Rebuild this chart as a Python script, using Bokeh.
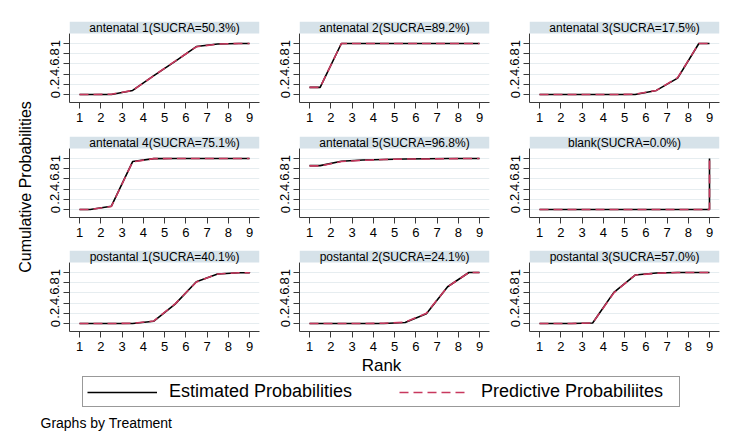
import math
from bokeh.plotting import figure
from bokeh.models import (Range1d, FixedTicker, BoxAnnotation, Label, Legend, LegendItem)
from bokeh.layouts import row, column
from bokeh.embed import file_html
from bokeh.resources import INLINE

# ---------------- data ----------------
treatments = ["antenatal 1", "antenatal 2", "antenatal 3",
              "antenatal 4", "antenatal 5", "blank",
              "postantal 1", "postantal 2", "postantal 3"]
sucra = ["50.3", "89.2", "17.5", "75.1", "96.8", "0.0", "40.1", "24.1", "57.0"]

# rank positions of the plotted points
rank_pos = [1, 1.5, 2.5, 3.5, 4.5, 5.5, 6.5, 7.5, 8.5, 9, 9]
rank_ticks = [1, 2, 3, 4, 5, 6, 7, 8, 9]
prob_ticks = [0, 0.2, 0.4, 0.6, 0.8, 1]
prob_tick_labels = ["0", ".2", ".4", ".6", ".8", "1"]

# estimated cumulative probabilities
est_antenatal1 = [0, 0, 0, 0.08, 0.37, 0.65, 0.94, 0.99, 1.0, 1.0, 1.0]
est_antenatal2 = [0.14, 0.14, 1.0, 1.0, 1.0, 1.0, 1.0, 1.0, 1.0, 1.0, 1.0]
est_antenatal3 = [0, 0, 0, 0, 0, 0, 0.08, 0.32, 1.0, 1.0, 1.0]
est_antenatal4 = [0, 0, 0.065, 0.94, 0.998, 1.0, 1.0, 1.0, 1.0, 1.0, 1.0]
est_antenatal5 = [0.86, 0.86, 0.945, 0.97, 0.98, 0.99, 0.995, 1.0, 1.0, 1.0, 1.0]
est_blank = [0, 0, 0, 0, 0, 0, 0, 0, 0, 0, 1.0]
est_postantal1 = [0, 0, 0, 0, 0.045, 0.38, 0.82, 0.97, 0.995, 0.995, 1.0]
est_postantal2 = [0, 0, 0, 0, 0, 0.02, 0.19, 0.72, 1.0, 1.0, 1.0]
est_postantal3 = [0, 0, 0, 0.01, 0.61, 0.95, 0.99, 1.0, 1.0, 1.0, 1.0]

# predictive cumulative probabilities
pred_antenatal1 = [0, 0, 0.005, 0.08, 0.37, 0.655, 0.935, 0.99, 1.0, 1.0, 1.0]
pred_antenatal2 = [0.14, 0.14, 1.0, 1.0, 1.0, 1.0, 1.0, 1.0, 1.0, 1.0, 1.0]
pred_antenatal3 = [0, 0, 0, 0, 0, 0.005, 0.08, 0.33, 1.0, 1.0, 1.0]
pred_antenatal4 = [0, 0, 0.06, 0.935, 0.997, 1.0, 1.0, 1.0, 1.0, 1.0, 1.0]
pred_antenatal5 = [0.855, 0.855, 0.94, 0.965, 0.98, 0.99, 0.99, 0.995, 1.0, 1.0, 1.0]
pred_blank = [0, 0, 0, 0, 0, 0, 0, 0, 0, 0, 1.0]
pred_postantal1 = [0, 0, 0, 0.005, 0.05, 0.385, 0.815, 0.97, 0.995, 0.995, 1.0]
pred_postantal2 = [0, 0, 0, 0, 0.005, 0.025, 0.2, 0.72, 1.0, 1.0, 1.0]
pred_postantal3 = [0, 0, 0, 0.01, 0.6, 0.95, 0.985, 1.0, 1.0, 1.0, 1.0]

est_series = [est_antenatal1, est_antenatal2, est_antenatal3, est_antenatal4,
              est_antenatal5, est_blank, est_postantal1, est_postantal2, est_postantal3]
pred_series = [pred_antenatal1, pred_antenatal2, pred_antenatal3, pred_antenatal4,
               pred_antenatal5, pred_blank, pred_postantal1, pred_postantal2, pred_postantal3]

# ---------------- style ----------------
FONT = "Liberation Sans"
RED = "#c8385e"
AXIS = "#3a3a3a"
STRIP = "#d6e2e9"
GRID = "#e6edf0"

FRAME_W, FRAME_H = 190, 81
PX_X = 170 / 8.0           # pixels per rank unit
PX_Y = 51.0                # pixels per probability unit
X0, X1 = 1 - 10 / PX_X, 9 + 10 / PX_X
Y0, Y1 = -8 / PX_Y, 1 + 22 / PX_Y
STRIP_BOTTOM = Y1 - 12 / PX_Y

tops = [21, 8, 7]
lefts = [31, 30, 30]
BOTTOM_BORDER = 26


def panel(i):
    r, c = divmod(i, 3)
    left, top, right, bottom = lefts[c], tops[r], 10, BOTTOM_BORDER
    p = figure(width=left + FRAME_W + right, height=top + FRAME_H + bottom,
               x_range=Range1d(X0, X1), y_range=Range1d(Y0, Y1),
               output_backend="svg", toolbar_location=None,
               min_border_left=left, min_border_right=right,
               min_border_top=top, min_border_bottom=bottom,
               background_fill_color="white", border_fill_color="white",
               outline_line_color=None)
    xt = FixedTicker(ticks=rank_ticks)
    yt = FixedTicker(ticks=prob_ticks)
    p.xaxis.ticker = xt
    p.yaxis.ticker = yt
    p.ygrid.ticker = yt
    p.xgrid.visible = False
    p.ygrid.grid_line_color = GRID
    p.ygrid.grid_line_width = 1
    for ax in (p.xaxis[0], p.yaxis[0]):
        ax.axis_line_color = AXIS
        ax.axis_line_width = 1
        ax.major_tick_line_color = AXIS
        ax.major_tick_in = 0
        ax.major_tick_out = 6
        ax.minor_tick_line_color = None
        ax.major_label_text_font = FONT
        ax.major_label_text_font_size = "13px"
        ax.major_label_text_color = "black"
    p.xaxis.major_label_standoff = 4
    p.yaxis.major_label_standoff = 4
    p.yaxis.major_label_orientation = "vertical"
    p.yaxis.major_label_overrides = {t: l for t, l in zip(prob_ticks, prob_tick_labels)}
    p.yaxis.bounds = (Y0, STRIP_BOTTOM)

    p.add_layout(BoxAnnotation(bottom=STRIP_BOTTOM, fill_color=STRIP, fill_alpha=1,
                               line_color=None))
    p.add_layout(Label(x=(rank_ticks[0] + rank_ticks[-1]) / 2, y=(STRIP_BOTTOM + Y1) / 2,
                       text=f"{treatments[i]}(SUCRA={sucra[i]}%)",
                       text_align="center", text_baseline="middle",
                       text_font=FONT, text_font_size="12px", text_color="black"))

    p.line(rank_pos, est_series[i], line_color="black", line_width=1.6)
    p.line(rank_pos, pred_series[i], line_color=RED, line_width=1.6, line_dash="9 5")
    return p


panels = [panel(i) for i in range(9)]
grid = column(row(*panels[0:3]), row(*panels[3:6]), row(*panels[6:9]))

grid_h = sum(t + FRAME_H + BOTTOM_BORDER for t in tops)

# y title (page has no margin: page pixel == layout pixel)
YT_W = 38
yt_fig = figure(width=YT_W, height=grid_h, x_range=Range1d(0, YT_W), y_range=Range1d(0, grid_h),
                x_axis_type=None, y_axis_type=None, output_backend="svg",
                toolbar_location=None, min_border=0, outline_line_color=None)
yt_fig.add_layout(Label(x=25, y=grid_h - 186.5, text="Cumulative Probabilities",
                        angle=math.pi / 2, text_align="center", text_baseline="middle",
                        text_font=FONT, text_font_size="16px", text_color="black"))

# bottom: x title, legend, note
BW = YT_W + sum(lefts) + 3 * (FRAME_W + 10)
BH = 443 - grid_h
pb = figure(width=BW, height=BH, x_range=Range1d(0, BW), y_range=Range1d(0, BH),
            x_axis_type=None, y_axis_type=None, output_backend="svg",
            toolbar_location=None, min_border=0, outline_line_color=None)
pb.add_layout(Label(x=381, y=BH - (365 - grid_h), text="Rank", text_align="center",
                    text_baseline="middle",
                    text_font=FONT, text_font_size="17px", text_color="black"))
pb.add_layout(Label(x=40, y=BH - (422 - grid_h), text="Graphs by Treatment", text_align="left",
                    text_baseline="middle", text_font=FONT, text_font_size="14px",
                    text_color="black"))
# legend-only renderers, kept outside the visible range
r1 = pb.line(x=[-20, -10], y=[-20, -20], line_color="black", line_width=1.6)
r2 = pb.line(x=[-20, -10], y=[-20, -20], line_color=RED, line_width=1.6, line_dash="9 5")
legend = Legend(items=[LegendItem(label="Estimated Probabilities", renderers=[r1]),
                       LegendItem(label="Predictive Probabiliites", renderers=[r2])],
                location=(82, 443 - 407), orientation="horizontal",
                glyph_width=70, glyph_height=20, label_standoff=12, spacing=36,
                padding=4, label_width=194, label_height=20,
                label_text_font=FONT, label_text_font_size="18px",
                label_text_color="black",
                border_line_color="#333333", border_line_width=1.5,
                background_fill_color="white", background_fill_alpha=1, margin=0)
pb.add_layout(legend)

layout = column(row(yt_fig, grid), pb)

with open("out.html", "w") as f:
    f.write(file_html(layout, INLINE))
